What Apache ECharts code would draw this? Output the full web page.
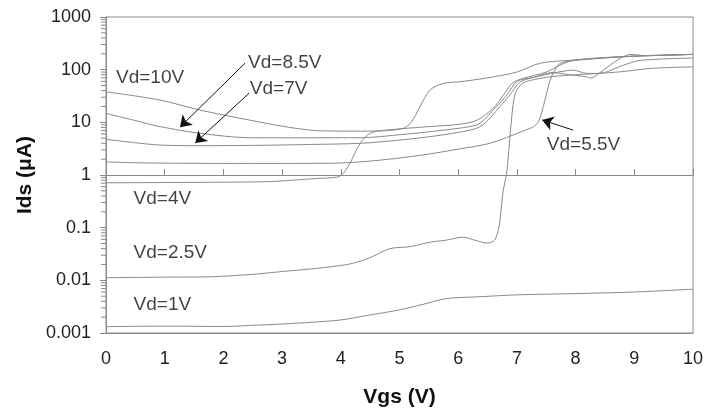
<!DOCTYPE html>
<html>
<head>
<meta charset="utf-8">
<script src="https://cdn.jsdelivr.net/npm/echarts@6/dist/echarts.min.js"></script>
<style>html,body{margin:0;padding:0;background:#fff}#c{width:704px;height:411px}</style>
</head>
<body>
<div id="c"></div>
<script>
// ---- data (Vgs [V], Ids [uA]) ----
var vd1  = [[0,0.00132],[1,0.00135],[2,0.00133],[2.5,0.0014],[3,0.00148],[3.5,0.0016],[4,0.00177],[4.5,0.0022],[5,0.00275],[5.4,0.0035],[5.8,0.0045],[6.4,0.0049],[7,0.0053],[8,0.0056],[9,0.006],[10,0.0068]];
var vd25 = [[0,0.0112],[1,0.0115],[1.8,0.0117],[2.5,0.013],[3,0.0147],[3.5,0.0165],[3.9,0.0185],[4.2,0.021],[4.5,0.027],[4.84,0.04],[5.18,0.0436],[5.52,0.053],[5.8,0.058],[6.08,0.066],[6.3,0.057],[6.5,0.051],[6.62,0.058],[6.7,0.11],[6.76,0.45],[6.83,1.2],[6.9,9],[6.97,35],[7.1,55],[7.3,65],[7.6,74],[8.0,80],[8.4,85],[8.76,91],[9.3,106],[10,113]];
var vd4  = [[0,0.71],[1,0.72],[2,0.73],[2.8,0.75],[3.2,0.8],[3.6,0.86],[3.95,0.92],[4.05,1.1],[4.16,1.7],[4.33,4.0],[4.5,6.2],[4.72,7.0],[5.06,7.6],[5.5,8.3],[6.03,9.2],[6.32,11],[6.6,18.7],[6.77,33],[6.92,55],[7.1,68],[7.5,90],[7.9,145],[8.5,170],[9.2,185],[10,195]];
var vd55 = [[0,1.77],[0.6,1.7],[1.3,1.67],[2,1.66],[3,1.66],[3.82,1.67],[4.38,1.79],[4.95,2.07],[5.5,2.5],[6,3.1],[6.54,4.0],[7.1,6.8],[7.3,8.5],[7.38,11],[7.45,20],[7.55,55],[7.62,86],[7.73,130],[8,150],[9,180],[10,195]];
var vd7  = [[0,4.75],[0.5,4.1],[0.92,3.7],[1.6,3.6],[2.5,3.65],[3.5,3.8],[4.33,4.0],[5,4.6],[5.6,5.5],[6.2,7.1],[6.42,8.9],[6.71,19.8],[6.88,33],[7.05,58],[7.3,72],[7.6,88],[7.9,80],[8.19,73],[8.26,69],[8.4,85],[8.6,125],[8.76,163],[8.93,195],[9.2,185],[10,195]];
var vd85 = [[0,14.8],[0.5,10.8],[0.92,8.3],[1.6,6.2],[2.45,5.1],[3.5,5.1],[4.33,5.1],[5.06,5.9],[5.6,6.8],[6.2,8.3],[6.37,9.6],[6.65,19.8],[6.83,33],[7.0,60],[7.3,72],[7.73,91],[7.96,98],[8.19,85],[8.4,85],[8.8,120],[9.1,150],[10,166]];
var vd10 = [[0,38],[0.92,26.5],[1.6,17.1],[2.45,11],[3.13,8.0],[3.65,6.9],[4.33,6.8],[4.67,6.9],[5.05,7.6],[5.2,10],[5.35,20],[5.52,41],[5.75,55],[6.03,59],[6.5,70],[7.0,90],[7.4,133],[7.95,152],[8.76,175],[10,195]];

var seriesNames = ['Vd=1V','Vd=2.5V','Vd=4V','Vd=5.5V','Vd=7V','Vd=8.5V','Vd=10V'];
var seriesData  = [vd1, vd25, vd4, vd55, vd7, vd85, vd10];

var xTickLabels = ['0','1','2','3','4','5','6','7','8','9','10'];
var yTickLabels = ['0.001','0.01','0.1','1','10','100','1000'];
var yMinorTicks = [0.002,0.003,0.004,0.005,0.006,0.007,0.008,0.009,
                   0.02,0.03,0.04,0.05,0.06,0.07,0.08,0.09,
                   0.2,0.3,0.4,0.5,0.6,0.7,0.8,0.9,
                   2,3,4,5,6,7,8,9,
                   20,30,40,50,60,70,80,90,
                   200,300,400,500,600,700,800,900];

// annotation labels: [text, Vgs, Ids] (left edge / vertical middle)
var labelTexts = ['Vd=10V','Vd=8.5V','Vd=7V','Vd=5.5V','Vd=4V','Vd=2.5V','Vd=1V'];
var labelX     = [0.17, 2.42, 2.45, 7.51, 0.47, 0.47, 0.47];
var labelY     = [69, 133, 43, 3.7, 0.35, 0.033, 0.0034];
// arrows: from -> to (data coords)
var arrowFrom = [[2.37,133],[2.44,36],[7.96,7.1]];
var arrowTo   = [[1.26,8.1],[1.52,4.05],[7.43,11.1]];

var FONT = "'Liberation Sans', Arial, sans-serif";
var LINE = '#8a8a8a';

var chart = echarts.init(document.getElementById('c'), null, {renderer:'canvas'});

var series = seriesData.map(function(d, i){
  return {
    name: seriesNames[i], type:'line', data:d, showSymbol:false, symbol:'none',
    smooth:0.3,
    lineStyle:{color:LINE, width:1}, z:3, silent:true
  };
});

series.push({
  name:'labels', type:'scatter', symbolSize:0, silent:true, z:5,
  data: labelTexts.map(function(t,i){ return {value:[labelX[i], labelY[i]], name:t}; }),
  label:{show:true, position:'right', distance:0, formatter:'{b}', color:'#111',
         fontFamily:FONT, fontSize:19},
  markLine:{
    silent:true, symbol:['none','arrow'], symbolSize:11,
    label:{show:false},
    lineStyle:{color:'#111', width:1, type:'solid'},
    emphasis:{disabled:true},
    data: arrowFrom.map(function(f,i){ return [{coord:f},{coord:arrowTo[i]}]; })
  }
});

series.push({
  name:'minorTicks', type:'custom', silent:true, clip:false, z:4,
  data: yMinorTicks.map(function(v){ return [0, v]; }),
  renderItem: function(params, api){
    var p = api.coord([0, api.value(1)]);
    return {type:'line', shape:{x1:p[0]-5, y1:p[1], x2:p[0], y2:p[1]},
            style:{stroke:LINE, lineWidth:1}};
  }
});

var option = {
  animation:false,
  backgroundColor:'#fff',
  grid:{left:106, right:11, top:17, bottom:78, show:true, borderColor:LINE, borderWidth:1,
        containLabel:false, outerBoundsMode:'none'},
  xAxis:[{
    type:'value', min:0, max:10, interval:1,
    name:'Vgs (V)', nameLocation:'middle', nameGap:54, nameMoveOverlap:false,
    nameTextStyle:{fontFamily:FONT, fontSize:21, fontWeight:'bold', color:'#111'},
    axisLine:{show:true, lineStyle:{color:LINE}},
    axisTick:{show:false},
    splitLine:{show:false},
    axisLabel:{margin:17, fontFamily:FONT, fontSize:18, color:'#222',
               formatter:function(v){ return xTickLabels[Math.round(v)]; }}
  },{
    type:'value', min:0, max:10, interval:1, position:'bottom', offset:0,
    axisLine:{show:true, lineStyle:{color:LINE}},
    axisTick:{show:true, inside:true, length:6, lineStyle:{color:LINE}},
    axisLabel:{show:false}, splitLine:{show:false}
  }],
  yAxis:{
    type:'log', logBase:10, min:0.001, max:1000,
    name:'Ids (μA)', nameLocation:'middle', nameGap:70, nameRotate:90, nameMoveOverlap:false,
    nameTextStyle:{fontFamily:FONT, fontSize:21, fontWeight:'bold', color:'#111'},
    axisLine:{show:true, lineStyle:{color:LINE}},
    axisTick:{show:true, length:6, lineStyle:{color:LINE}},
    splitLine:{show:false},
    axisLabel:{margin:15, fontFamily:FONT, fontSize:18, color:'#222',
               formatter:function(v){ return yTickLabels[Math.round(Math.log10(v)) + 3]; }}
  },
  series: series
};

chart.setOption(option);
// place the second x axis line where y = 1 (Excel-style crossing)
var yOne = chart.convertToPixel({yAxisIndex:0}, 1);
var yBottom = chart.convertToPixel({yAxisIndex:0}, 0.001);
chart.setOption({xAxis:[{},{offset: yOne - yBottom}]});
</script>
</body>
</html>
